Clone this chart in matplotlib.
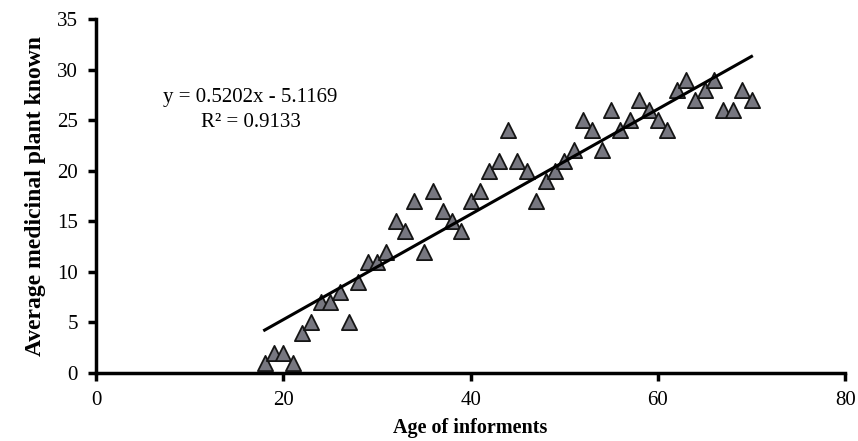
import matplotlib
matplotlib.use("Agg")
import matplotlib.pyplot as plt
import numpy as np

plt.rcParams['font.family'] = ['Liberation Serif', 'DejaVu Serif']

# edad de los informantes y numero promedio de plantas conocidas
ages = [18, 19, 20, 21, 22, 23, 24, 25, 26, 27, 28, 29, 30, 31, 32, 33, 34,
        35, 36, 37, 38, 39, 40, 41, 42, 43, 44, 45, 46, 47, 48, 49, 50, 51,
        52, 53, 54, 55, 56, 57, 58, 59, 60, 61, 62, 63, 64, 65, 66, 67, 68,
        69, 70]
plants = [1, 2, 2, 1, 4, 5, 7, 7, 8, 5, 9, 11, 11, 12, 15, 14, 17,
          12, 18, 16, 15, 14, 17, 18, 20, 21, 24, 21, 20, 17, 19, 20, 21, 22,
          25, 24, 22, 26, 24, 25, 27, 26, 25, 24, 28, 29, 27, 28, 29, 26, 26,
          28, 27]

slope = 0.5202
intercept = -5.1169
r2 = 0.9133

fig = plt.figure(figsize=(8.58, 4.41), dpi=100)
ax = fig.add_axes([0.112, 0.154, 0.873, 0.803])

ax.scatter(ages, plants, marker='^', s=120, color='#777780',
           edgecolors='#151515', linewidths=1.3, zorder=3)

xs = np.array([min(ages), max(ages)])
ax.plot(xs, slope * xs + intercept, color='black', lw=2.2, zorder=4)

ax.text(16.5, 27.2, f"y = {slope:.4f}x - {abs(intercept):.4f}",
        ha='center', va='center', fontsize=15)
ax.text(16.5, 24.8, f"R\u00b2 = {r2:.4f}", ha='center', va='center', fontsize=15)

ax.set_xlim(0, 80)
ax.set_ylim(0, 35)
ax.set_xticks(range(0, 81, 20))
ax.set_yticks(range(0, 36, 5))
for s in ['top', 'right']:
    ax.spines[s].set_visible(False)
for s in ['left', 'bottom']:
    ax.spines[s].set_linewidth(2.5)
ax.tick_params(width=2.5, length=6, labelsize=15, pad=7)

ax.set_xlabel('Age of informents', fontsize=14.5, fontweight='bold', labelpad=6)
ax.set_ylabel('Average medicinal plant known', fontsize=17, fontweight='bold',
              labelpad=8)

fig.savefig('out.png', dpi=100)
